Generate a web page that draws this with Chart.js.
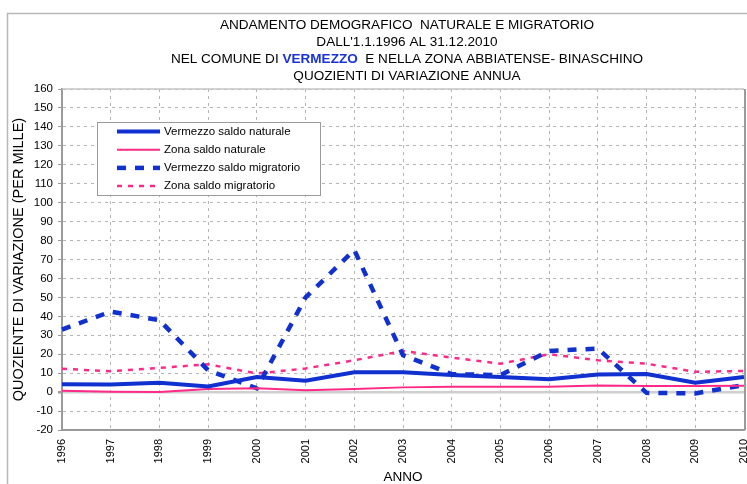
<!DOCTYPE html>
<html>
<head>
<meta charset="utf-8">
<script src="https://cdn.jsdelivr.net/npm/chart.js@4.4.0/dist/chart.umd.min.js"></script>
<style>
  html, body { margin: 0; padding: 0; background: #fff; }
</style>
</head>
<body>
<canvas id="chart" width="747" height="484"></canvas>
<script>
// ---------- data ----------
const years = ["1996", "1997", "1998", "1999", "2000", "2001", "2002", "2003",
               "2004", "2005", "2006", "2007", "2008", "2009", "2010"];
const vermezzoNaturale   = [4.2, 4, 5, 3, 8, 6, 10.5, 10.5, 9, 8, 6.8, 9.3, 9.6, 4.9, 8];
const zonaNaturale       = [0.7, 0.2, 0, 1.7, 2, 1, 1.7, 2.5, 2.8, 2.8, 2.8, 3.5, 3.2, 3.2, 3.3];
const vermezzoMigratorio = [33, 42.5, 38, 11.5, 2, 50, 75, 19.5, 9.5, 9, 21.7, 23, -0.4, -0.7, 3.7];
const zonaMigratorio     = [12.3, 11, 12.8, 14.7, 9.8, 12.5, 16.8, 21.7, 18.2, 15, 20, 16.8, 15, 10.7, 11.2];
const yMin = -20, yMax = 160, yStep = 10;

const BLUE = "#1030d0";
const PINK = "#ff2a88";
const FONT = '"Liberation Sans", Arial, sans-serif';

// title lines, with the highlighted municipality name
const titleLines = [
  [{ t: "ANDAMENTO DEMOGRAFICO  NATURALE E MIGRATORIO" }],
  [{ t: "DALL'1.1.1996 AL 31.12.2010" }],
  [{ t: "NEL COMUNE DI " }, { t: "VERMEZZO", bold: true, color: "#1a32d8" }, { t: "  E NELLA ZONA ABBIATENSE- BINASCHINO" }],
  [{ t: "QUOZIENTI DI VARIAZIONE ANNUA" }]
];

// ---------- outer frame + plot border ----------
const framePlugin = {
  id: "frame",
  beforeDraw(chart) {
    const { ctx } = chart;
    ctx.save();
    ctx.fillStyle = "#fff";
    ctx.fillRect(0, 0, chart.width, chart.height);
    ctx.strokeStyle = "#b8b8b8";
    ctx.lineWidth = 1.5;
    ctx.beginPath();
    ctx.moveTo(7.5, chart.height);
    ctx.lineTo(7.5, 13.5);
    ctx.lineTo(chart.width, 13.5);
    ctx.stroke();
    ctx.restore();
  },
  beforeDatasetsDraw(chart) {
    const { ctx, chartArea: a } = chart;
    ctx.save();
    ctx.strokeStyle = "#c4c4c4";
    ctx.lineWidth = 1.5;
    ctx.beginPath();
    ctx.moveTo(a.left, a.top);
    ctx.lineTo(a.right, a.top);
    ctx.stroke();
    ctx.strokeStyle = "#9a9a9a";
    ctx.lineWidth = 2;
    ctx.beginPath();
    ctx.moveTo(a.right + 1, a.top);
    ctx.lineTo(a.right + 1, a.bottom);
    ctx.stroke();
    ctx.restore();
  }
};

// ---------- title (slightly widened lettering, like the original) ----------
const titlePlugin = {
  id: "bigTitle",
  afterDraw(chart) {
    const ctx = chart.ctx;
    const size = 12, sx = 1.13, cx = 407;
    const baselines = [28.5, 45.5, 62.5, 79.5];
    ctx.save();
    ctx.textBaseline = "alphabetic";
    titleLines.forEach((segs, i) => {
      let w = 0;
      segs.forEach(s => {
        ctx.font = (s.bold ? "bold " : "") + size + "px " + FONT;
        s.w = ctx.measureText(s.t).width;
        w += s.w;
      });
      ctx.save();
      ctx.translate(cx, baselines[i]);
      ctx.scale(sx, 1);
      let x = -w / 2;
      segs.forEach(s => {
        ctx.font = (s.bold ? "bold " : "") + size + "px " + FONT;
        ctx.fillStyle = s.color || "#000";
        ctx.fillText(s.t, x, 0);
        x += s.w;
      });
      ctx.restore();
    });
    ctx.restore();
  }
};

// ---------- boxed legend inside the plot ----------
const legendPlugin = {
  id: "boxLegend",
  afterDatasetsDraw(chart) {
    const ctx = chart.ctx;
    const box = { x: 97.5, y: 122.5, w: 223, h: 73 };
    ctx.save();
    ctx.fillStyle = "#fff";
    ctx.fillRect(box.x, box.y, box.w, box.h);
    ctx.strokeStyle = "#9a9a9a";
    ctx.lineWidth = 1;
    ctx.strokeRect(box.x, box.y, box.w, box.h);
    ctx.font = "11.5px " + FONT;
    ctx.textBaseline = "middle";
    chart.data.datasets.forEach((ds, i) => {
      const y = 131.5 + i * 18.2;
      ctx.strokeStyle = ds.borderColor;
      ctx.lineWidth = ds.borderWidth;
      ctx.setLineDash(ds.borderDash || []);
      ctx.beginPath();
      ctx.moveTo(117, y);
      ctx.lineTo(160, y);
      ctx.stroke();
      ctx.setLineDash([]);
      ctx.fillStyle = "#000";
      ctx.fillText(ds.label, 164, y);
    });
    ctx.restore();
  }
};

const isZero = c => c.tick && c.tick.value === 0;

new Chart(document.getElementById("chart"), {
  type: "line",
  data: {
    labels: years,
    datasets: [
      { label: "Vermezzo saldo naturale", data: vermezzoNaturale, borderColor: BLUE, borderWidth: 4 },
      { label: "Zona saldo naturale", data: zonaNaturale, borderColor: PINK, borderWidth: 2 },
      { label: "Vermezzo saldo migratorio", data: vermezzoMigratorio, borderColor: BLUE, borderWidth: 4.5, borderDash: [9, 9] },
      { label: "Zona saldo migratorio", data: zonaMigratorio, borderColor: PINK, borderWidth: 2.5, borderDash: [5, 6] }
    ].map(d => Object.assign(d, { pointRadius: 0, tension: 0, fill: false }))
  },
  options: {
    responsive: false,
    animation: false,
    devicePixelRatio: 1,
    layout: { padding: { top: 89, right: 3, bottom: 0, left: 0 } },
    plugins: {
      legend: { display: false },
      tooltip: { enabled: false }
    },
    scales: {
      x: {
        offset: false,
        grid: { color: "#b4b4b4", lineWidth: 1, drawTicks: false },
        border: { display: true, color: "#9a9a9a", width: 2, dash: [3, 4] },
        ticks: { minRotation: 90, maxRotation: 90, autoSkip: false, padding: 9, color: "#000", font: { family: FONT, size: 11 } },
        title: { display: true, text: "ANNO", color: "#000", font: { family: FONT, size: 13.5, lineHeight: 1 }, padding: { top: 0, bottom: 0 } },
        afterFit(s) { s.height = 54; s.paddingLeft = 0; s.paddingRight = 0; }
      },
      y: {
        min: yMin,
        max: yMax,
        ticks: { stepSize: yStep, padding: 5, color: "#000", font: { family: FONT, size: 11.5 } },
        grid: {
          color: c => isZero(c) ? "#cfcfcf" : "#b4b4b4",
          lineWidth: c => isZero(c) ? 2.5 : 1,
          tickLength: 4,
          tickColor: "#9a9a9a",
          tickBorderDash: []
        },
        border: { display: true, color: "#9a9a9a", width: 2, dash: c => isZero(c) ? [] : [3, 4] },
        title: { display: true, text: "QUOZIENTE DI VARIAZIONE (PER MILLE)", color: "#000", font: { family: FONT, size: 14.5 }, padding: { top: 10, bottom: 0 } },
        afterFit(s) { s.width = 62; }
      }
    }
  },
  plugins: [framePlugin, titlePlugin, legendPlugin]
});
</script>
</body>
</html>
